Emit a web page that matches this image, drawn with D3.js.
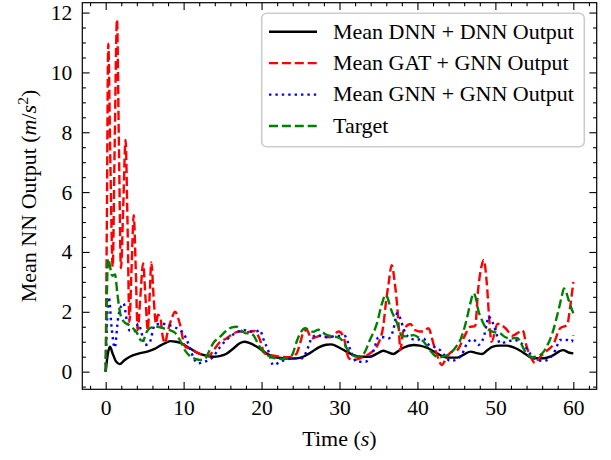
<!DOCTYPE html>
<html>
<head>
<meta charset="utf-8">
<script src="https://cdn.jsdelivr.net/npm/d3@7"></script>
<style>
  body { margin: 0; background: #ffffff; }
  text { font-family: "Liberation Serif", "Times New Roman", serif; fill: #000; }
</style>
</head>
<body>
<div id="vis1"></div>
<script>
// frame dimensions
const FRAME_WIDTH = 611;
const FRAME_HEIGHT = 460;
const MARGINS = {left: 82.3, right: 14.3, top: 2.7, bottom: 70.7};

// data: [time (s), mean output (m/s^2)]
const DNN_OUT = [[0,0],[0.25,0.55],[0.55,0.83],[0.9,0.6],[1.3,0.35],[1.8,0.25],[2.4,0.38],[3.1,0.5],
  [4.2,0.6],[5.3,0.67],[6.2,0.75],[7.0,0.87],[7.7,0.96],[8.3,1.02],[9.0,1.0],[9.6,0.96],[10.8,0.78],
  [11.6,0.65],[12.5,0.56],[13.8,0.5],[14.6,0.52],[15.5,0.6],[16.5,0.8],[17.2,0.95],[17.8,1.0],[18.5,0.95],
  [19.4,0.83],[20.7,0.6],[21.8,0.48],[22.8,0.45],[24.0,0.44],[24.9,0.46],[26.2,0.62],[27.4,0.82],[28.3,0.9],
  [28.9,0.91],[30.0,0.8],[30.9,0.67],[31.8,0.55],[32.6,0.5],[33.9,0.5],[34.8,0.6],[35.6,0.7],[36.3,0.64],
  [36.9,0.59],[37.6,0.7],[38.2,0.8],[39.5,0.89],[40.3,0.87],[41.2,0.8],[42.5,0.61],[43.8,0.47],[45.1,0.47],
  [46.0,0.58],[46.8,0.67],[47.6,0.62],[48.3,0.59],[49.0,0.72],[49.6,0.83],[50.5,0.87],[51.5,0.87],[52.4,0.8],
  [53.2,0.7],[53.9,0.58],[54.5,0.48],[55.3,0.45],[56.2,0.45],[57.5,0.56],[58.2,0.68],[58.7,0.72],[59.4,0.64],
  [60.0,0.61]];

const GAT_OUT = [[0,0],[0.15,5],[0.33,10.96],[0.6,7],[0.9,3.5],[1.15,7.5],[1.45,11.77],[1.7,7.5],[1.96,3.46],
  [2.25,5.5],[2.55,7.74],[2.8,5],[3.05,1.67],[3.3,3.3],[3.6,5.23],[3.85,3.5],[4.1,1.39],[4.45,2.5],[4.8,3.62],
  [5.1,2.5],[5.4,1.39],[5.65,2.6],[5.85,3.65],[6.15,2.5],[6.45,1.6],[6.7,1.9],[7.0,1.82],[7.3,1.2],[7.6,0.95],
  [8.0,1.39],[8.5,1.8],[8.9,2.0],[9.5,1.61],[10.2,0.83],[11.0,0.75],[12.1,0.59],[13.2,0.52],[13.8,0.7],
  [14.7,1.0],[15.5,1.11],[16.4,1.28],[17.2,1.34],[18.1,1.31],[18.5,1.34],[19.1,1.36],[19.8,1.06],[20.4,0.61],
  [21.9,0.52],[23.7,0.48],[24.5,0.61],[25.0,1.0],[25.4,1.34],[25.8,1.39],[26.4,1.11],[27.5,1.19],[28.8,1.15],
  [29.9,1.34],[30.5,1.17],[31.2,0.45],[31.8,0.39],[33.1,0.5],[33.9,0.61],[35.0,0.95],[35.6,1.5],[36.0,2.4],
  [36.3,2.95],[36.7,3.56],[37.1,2.95],[37.4,2.2],[37.6,1.5],[37.8,0.72],[38.2,1.39],[39.1,1.59],[39.7,1.39],
  [40.3,1.34],[40.8,1.34],[41.4,1.45],[42.1,0.89],[42.6,0.5],[43.1,0.22],[43.8,0.5],[44.4,0.67],[45.1,0.72],
  [45.9,1.11],[46.8,1.5],[47.4,1.52],[47.8,2.78],[48.2,3.5],[48.5,3.73],[48.9,2.95],[49.2,1.8],[49.5,1.0],
  [50.3,1.6],[51.3,1.45],[52.2,1.2],[53.2,1.35],[53.5,1.38],[54.0,0.85],[54.6,0.45],[55.1,0.28],[55.6,0.45],
  [56.2,0.61],[57.5,0.95],[58.3,1.45],[59.2,1.56],[59.6,2.17],[60.0,3.0]];

const GNN_OUT = [[0,0],[0.15,1.5],[0.4,2.5],[0.75,1.5],[1.15,0.8],[1.6,1.8],[2.0,2.2],[2.3,2.28],[2.7,1.73],
  [3.1,1.36],[3.6,1.34],[4.2,1.6],[4.6,1.3],[5.0,0.89],[5.6,0.95],[6.3,1.56],[7.2,1.6],[8.5,1.52],[9.5,1.39],
  [10.0,1.28],[10.4,1.06],[10.8,0.8],[11.2,0.5],[11.9,0.28],[12.7,0.33],[13.6,0.45],[14.7,0.83],[15.5,1.06],
  [16.6,1.28],[17.7,1.39],[18.5,1.34],[19.4,1.35],[19.8,1.39],[20.2,1.11],[20.9,0.67],[21.5,0.22],[22.4,0.33],
  [24.1,0.45],[25.2,0.45],[26.0,0.83],[26.4,1.11],[27.1,1.22],[28.4,1.15],[29.7,1.19],[30.7,1.19],[31.4,0.72],
  [32.2,0.33],[33.3,0.33],[34.4,0.72],[35.0,1.15],[35.6,1.15],[36.3,1.11],[36.9,1.39],[37.4,1.95],[37.8,1.78],
  [38.2,1.45],[38.8,1.17],[39.9,1.06],[40.8,1.11],[41.2,0.95],[42.1,0.83],[42.9,0.72],[43.6,0.5],[44.2,0.36],
  [45.1,0.41],[45.7,0.58],[46.5,1.0],[47.2,1.08],[47.8,0.89],[48.5,1.15],[48.9,1.61],[49.1,1.84],[49.6,1.67],
  [50.0,1.39],[50.6,0.95],[51.5,1.0],[52.5,1.06],[53.2,0.97],[54.0,0.78],[54.9,0.45],[56.2,0.36],[57.0,0.45],
  [57.7,0.72],[58.3,1.06],[59.2,1.06],[59.8,1.0],[60.0,1.22]];

const TARGET = [[0,0],[0.15,2.5],[0.3,3.78],[0.85,3.2],[1.2,3.25],[1.5,2.6],[1.9,1.9],[2.4,1.65],[3.0,1.56],
  [3.5,1.45],[4.0,1.3],[4.5,1.05],[4.8,1.03],[5.2,1.3],[5.9,1.48],[6.6,1.5],[7.4,1.45],[8.3,1.38],[8.9,1.3],
  [9.5,1.06],[10.2,0.7],[10.9,0.5],[11.6,0.42],[12.1,0.39],[12.8,0.45],[13.3,0.7],[13.8,0.95],[14.7,1.17],
  [15.4,1.35],[16.2,1.48],[16.8,1.5],[17.5,1.35],[18.0,1.28],[18.5,1.28],[19.0,1.2],[19.6,0.9],[20.2,0.67],
  [21.1,0.5],[22.0,0.44],[22.8,0.42],[23.6,0.46],[24.0,0.6],[24.5,1.0],[25.0,1.3],[25.6,1.45],[26.1,1.38],
  [26.6,1.33],[27.3,1.4],[28.2,1.25],[29.0,1.18],[29.7,1.15],[30.5,1.0],[31.0,0.75],[31.5,0.58],[32.2,0.5],
  [33.1,0.6],[33.9,1.06],[34.8,1.61],[35.4,2.23],[35.9,2.56],[36.2,2.45],[36.5,2.17],[37.4,1.61],[38.0,1.2],
  [38.5,1.18],[39.5,1.22],[40.3,1.11],[40.8,1.0],[41.6,0.72],[42.3,0.52],[42.9,0.48],[43.5,0.52],[44.2,0.61],
  [45.0,0.85],[45.5,1.06],[46.3,1.73],[46.8,2.3],[47.2,2.62],[47.5,2.45],[47.8,2.06],[48.3,1.7],[48.7,1.5],
  [49.6,1.34],[50.6,1.28],[51.3,1.15],[51.9,1.11],[52.8,1.13],[53.2,1.0],[53.6,0.78],[54.2,0.55],[54.7,0.48],
  [55.5,0.52],[56.2,0.67],[56.8,0.95],[57.3,1.28],[58.1,2.06],[58.5,2.5],[58.8,2.78],[59.1,2.65],[59.4,2.39],
  [60.0,1.95]];

const SERIES_NAMES = ["Mean DNN + DNN Output", "Mean GAT + GNN Output", "Mean GNN + GNN Output", "Target"];
const X_TICKS = [0, 10, 20, 30, 40, 50, 60];
const Y_TICKS = [0, 2, 4, 6, 8, 10, 12];

// line styles, in drawing order
const STYLES = [
  {color: "#000000", dash: null},
  {color: "#ff0000", dash: "9 3.9"},
  {color: "#0000ff", dash: "2.4 4"},
  {color: "#008000", dash: "9 3.9"}
];
const SERIES = [DNN_OUT, GAT_OUT, GNN_OUT, TARGET];

const FRAME1 = d3.select("#vis1")
  .append("svg")
    .attr("width", FRAME_WIDTH)
    .attr("height", FRAME_HEIGHT);

const VIS_WIDTH = FRAME_WIDTH - MARGINS.left - MARGINS.right;
const VIS_HEIGHT = FRAME_HEIGHT - MARGINS.top - MARGINS.bottom;

// scales, with matplotlib style 5% padding
const X_SCALE = d3.scaleLinear().domain([-3, 63]).range([MARGINS.left, MARGINS.left + VIS_WIDTH]);
const Y_SCALE = d3.scaleLinear().domain([-0.59, 12.33]).range([MARGINS.top + VIS_HEIGHT, MARGINS.top]);

const TICK_FONT = 21.5;
const MAJOR = 7.3, MINOR = 3.6;

const xMinor = d3.range(-2, 63, 2).filter(d => d % 10 !== 0);
const yMinor = d3.range(-0.5, 12.3, 0.5).filter(d => d % 2 !== 0);

// clip for the lines
FRAME1.append("clipPath").attr("id", "clip")
  .append("rect")
    .attr("x", MARGINS.left).attr("y", MARGINS.top)
    .attr("width", VIS_WIDTH).attr("height", VIS_HEIGHT);

const line = d3.line()
  .x(d => X_SCALE(d[0]))
  .y(d => Y_SCALE(d[1]))
  .curve(d3.curveMonotoneX);

FRAME1.append("g").attr("clip-path", "url(#clip)")
  .selectAll("path")
  .data(SERIES)
  .enter()
  .append("path")
    .attr("d", d => line(d))
    .attr("fill", "none")
    .attr("stroke", (d, i) => STYLES[i].color)
    .attr("stroke-width", 2.4)
    .attr("stroke-dasharray", (d, i) => STYLES[i].dash)
    .attr("stroke-linejoin", "round");

// axes: ticks point inward on all four sides
const bottomY = MARGINS.top + VIS_HEIGHT;
const rightX = MARGINS.left + VIS_WIDTH;

function styleAxis(g) {
  g.select(".domain").remove();
  g.selectAll(".tick line").attr("stroke", "#000").attr("stroke-width", 1.1);
  g.selectAll("text").attr("font-size", TICK_FONT).attr("font-family", "Liberation Serif, serif").attr("fill", "#000");
}

FRAME1.append("g").attr("transform", "translate(0," + bottomY + ")")
  .call(d3.axisBottom(X_SCALE).tickValues(X_TICKS).tickSizeInner(-MAJOR).tickSizeOuter(0).tickPadding(10.5).tickFormat(d3.format("d")))
  .call(styleAxis);
FRAME1.append("g").attr("transform", "translate(0," + bottomY + ")")
  .call(d3.axisBottom(X_SCALE).tickValues(xMinor).tickSizeInner(-MINOR).tickSizeOuter(0).tickFormat(""))
  .call(styleAxis);
FRAME1.append("g").attr("transform", "translate(0," + MARGINS.top + ")")
  .call(d3.axisTop(X_SCALE).tickValues(X_TICKS).tickSizeInner(-MAJOR).tickSizeOuter(0).tickFormat(""))
  .call(styleAxis);
FRAME1.append("g").attr("transform", "translate(0," + MARGINS.top + ")")
  .call(d3.axisTop(X_SCALE).tickValues(xMinor).tickSizeInner(-MINOR).tickSizeOuter(0).tickFormat(""))
  .call(styleAxis);

FRAME1.append("g").attr("transform", "translate(" + MARGINS.left + ",0)")
  .call(d3.axisLeft(Y_SCALE).tickValues(Y_TICKS).tickSizeInner(-MAJOR).tickSizeOuter(0).tickPadding(10).tickFormat(d3.format("d")))
  .call(styleAxis);
FRAME1.append("g").attr("transform", "translate(" + MARGINS.left + ",0)")
  .call(d3.axisLeft(Y_SCALE).tickValues(yMinor).tickSizeInner(-MINOR).tickSizeOuter(0).tickFormat(""))
  .call(styleAxis);
FRAME1.append("g").attr("transform", "translate(" + rightX + ",0)")
  .call(d3.axisRight(Y_SCALE).tickValues(Y_TICKS).tickSizeInner(-MAJOR).tickSizeOuter(0).tickFormat(""))
  .call(styleAxis);
FRAME1.append("g").attr("transform", "translate(" + rightX + ",0)")
  .call(d3.axisRight(Y_SCALE).tickValues(yMinor).tickSizeInner(-MINOR).tickSizeOuter(0).tickFormat(""))
  .call(styleAxis);

// frame box
FRAME1.append("rect")
  .attr("x", MARGINS.left).attr("y", MARGINS.top)
  .attr("width", VIS_WIDTH).attr("height", VIS_HEIGHT)
  .attr("fill", "none").attr("stroke", "#000").attr("stroke-width", 1.2);

// axis labels
const xLab = FRAME1.append("text")
  .attr("x", MARGINS.left + VIS_WIDTH / 2)
  .attr("y", 446)
  .attr("text-anchor", "middle")
  .attr("font-size", 22);
xLab.append("tspan").text("Time (");
xLab.append("tspan").attr("font-style", "italic").text("s");
xLab.append("tspan").text(")");

const yLab = FRAME1.append("text")
  .attr("transform", "translate(35.5," + (MARGINS.top + VIS_HEIGHT / 2) + ") rotate(-90)")
  .attr("text-anchor", "middle")
  .attr("font-size", 22);
yLab.append("tspan").text("Mean NN Output (");
yLab.append("tspan").attr("font-style", "italic").text("m");
yLab.append("tspan").text("/");
yLab.append("tspan").attr("font-style", "italic").text("s");
yLab.append("tspan").attr("font-size", 15.5).attr("dy", "-8").text("2");
yLab.append("tspan").attr("dy", "8").text(")");

// legend
const LEG = FRAME1.append("g");
LEG.append("rect")
  .attr("x", 261.7).attr("y", 13.3)
  .attr("width", 322.6).attr("height", 133.4)
  .attr("rx", 5)
  .attr("fill", "#ffffff").attr("fill-opacity", 0.8)
  .attr("stroke", "#cccccc").attr("stroke-width", 1.6);

const rows = LEG.selectAll("g.row")
  .data(SERIES_NAMES)
  .enter()
  .append("g")
    .attr("class", "row")
    .attr("transform", (d, i) => "translate(0," + (31.7 + i * 31.45) + ")");
rows.append("line")
  .attr("x1", 269).attr("x2", 317)
  .attr("y1", 0).attr("y2", 0)
  .attr("stroke", (d, i) => STYLES[i].color)
  .attr("stroke-width", 2.4)
  .attr("stroke-dasharray", (d, i) => STYLES[i].dash);
rows.append("text")
  .attr("x", 333)
  .attr("y", 6.8)
  .attr("font-size", 22)
  .text(d => d);
</script>
</body>
</html>
